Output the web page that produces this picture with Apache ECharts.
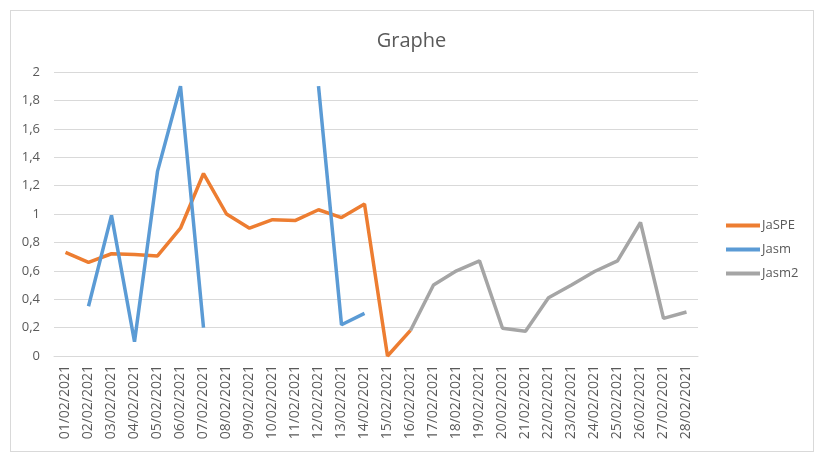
<!DOCTYPE html>
<html>
<head>
<meta charset="utf-8">
<script src="https://cdn.jsdelivr.net/npm/echarts@6/dist/echarts.min.js"></script>
<style>
  html, body { margin: 0; padding: 0; background: #fff; }
  #frame { position: absolute; left: 10px; top: 10px; width: 802px; height: 440px; border: 1px solid #d9d9d9; }
  #chart { width: 823px; height: 463px; }
</style>
</head>
<body>
<div id="frame"></div>
<div id="chart"></div>
<script>
const dates = []
for (let d = 1; d <= 28; d++) dates.push((d < 10 ? '0' + d : '' + d) + '/02/2021')

const jaspe = [0.73, 0.66, 0.72, 0.715, 0.705, 0.9, 1.285, 1.0, 0.9, 0.96, 0.955, 1.03, 0.975, 1.07, 0.0, 0.18,
  null, null, null, null, null, null, null, null, null, null, null, null]
const jasm = [null, 0.35, 0.99, 0.1, 1.3, 1.9, 0.2, null, null, null, null, 1.9, 0.22, 0.3,
  null, null, null, null, null, null, null, null, null, null, null, null, null, null]
const jasm2 = [null, null, null, null, null, null, null, null, null, null, null, null, null, null, null, 0.18,
  0.5, 0.6, 0.67, 0.195, 0.175, 0.41, 0.5, 0.595, 0.67, 0.94, 0.265, 0.31]

const chart = echarts.init(document.getElementById('chart'))
const font = '"Open Sans", sans-serif'
const lineSeries = (name, data, color) => ({
  name, type: 'line', data, symbol: 'none', connectNulls: false,
  lineStyle: { width: 3.5, color }, itemStyle: { color }
})
chart.setOption({
  animation: false,
  title: {
    text: 'Graphe', left: 'center', top: 26,
    textStyle: { color: '#595959', fontSize: 20, fontWeight: 'normal', fontFamily: font }
  },
  legend: {
    orient: 'vertical', left: 721, top: 214, itemGap: 11,
    itemWidth: 34, itemHeight: 4, icon: 'rect',
    data: ['JaSPE', 'Jasm', 'Jasm2'],
    textStyle: { color: '#595959', fontSize: 13, fontFamily: font, padding: [0, 0, 0, -3] }
  },
  grid: { left: 54, right: 125, top: 72, bottom: 107, containLabel: false },
  xAxis: {
    type: 'category', data: dates, boundaryGap: true,
    axisLine: { lineStyle: { color: '#d9d9d9' } },
    axisTick: { show: false },
    axisLabel: { rotate: 90, interval: 0, color: '#595959', fontSize: 14, fontFamily: font, margin: 9 }
  },
  yAxis: {
    type: 'value', min: 0, max: 2, interval: 0.2,
    axisLine: { show: false }, axisTick: { show: false },
    splitLine: { lineStyle: { color: '#d9d9d9' } },
    axisLabel: {
      color: '#595959', fontSize: 13, fontFamily: font, margin: 14,
      formatter: v => String(Math.round(v * 10) / 10).replace('.', ',')
    }
  },
  series: [
    lineSeries('JaSPE', jaspe, '#ed7d31'),
    lineSeries('Jasm', jasm, '#5b9bd5'),
    lineSeries('Jasm2', jasm2, '#a5a5a5')
  ]
})
</script>
</body>
</html>
